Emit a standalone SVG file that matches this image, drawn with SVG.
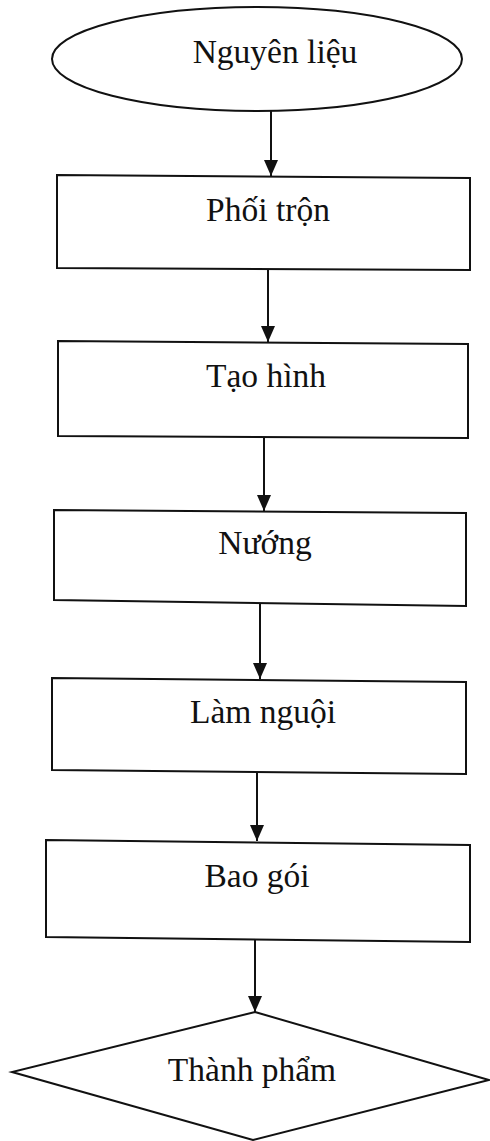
<svg xmlns="http://www.w3.org/2000/svg" width="490" height="1141" viewBox="0 0 490 1141">
<style>
.s{fill:#fff;stroke:#111;stroke-width:2}
.t{font-family:"Liberation Serif","Times New Roman",serif;font-size:33.5px;fill:#111;text-anchor:middle}
.c line{stroke:#111;stroke-width:2;fill:none;marker-end:url(#a)}
</style>
<defs>
<marker id="a" markerWidth="16" markerHeight="14" refX="16" refY="7" orient="auto" markerUnits="userSpaceOnUse" viewBox="0 0 16 14">
<path d="M0,0 L16,7 L0,14 Z" fill="#111"/>
</marker>
</defs>
<rect width="490" height="1141" fill="#fff"/>
<g id="n1"><ellipse class="s" cx="257" cy="59" rx="205" ry="52"/><text class="t" x="275" y="63">Nguyên liệu</text></g>
<g id="n2"><path class="s" d="M57,175 L470,178 L470,270 L57,268 Z"/><text class="t" x="268" y="221">Phối trộn</text></g>
<g id="n3"><path class="s" d="M58,341 L468,344 L468,438 L58,436 Z"/><text class="t" x="266" y="387">Tạo hình</text></g>
<g id="n4"><path class="s" d="M54,510 L466,513 L466,606 L54,600 Z"/><text class="t" x="265" y="554">Nướng</text></g>
<g id="n5"><path class="s" d="M52,678 L466,682 L466,774 L52,770 Z"/><text class="t" x="263" y="723">Làm nguội</text></g>
<g id="n6"><path class="s" d="M46,840 L470,845 L470,942 L46,937 Z"/><text class="t" x="257" y="887">Bao gói</text></g>
<g id="n7"><path class="s" d="M255,1012 L489,1080 L253,1140 L12,1072 Z"/><text class="t" x="252" y="1081">Thành phẩm</text></g>
<g id="connectors" class="c">
<line x1="271" y1="111" x2="271" y2="176"/>
<line x1="268" y1="269" x2="268" y2="342"/>
<line x1="264" y1="437" x2="264" y2="511"/>
<line x1="260" y1="603" x2="260" y2="679"/>
<line x1="257" y1="772" x2="257" y2="841"/>
<line x1="255" y1="939" x2="255" y2="1012"/>
</g>
</svg>
